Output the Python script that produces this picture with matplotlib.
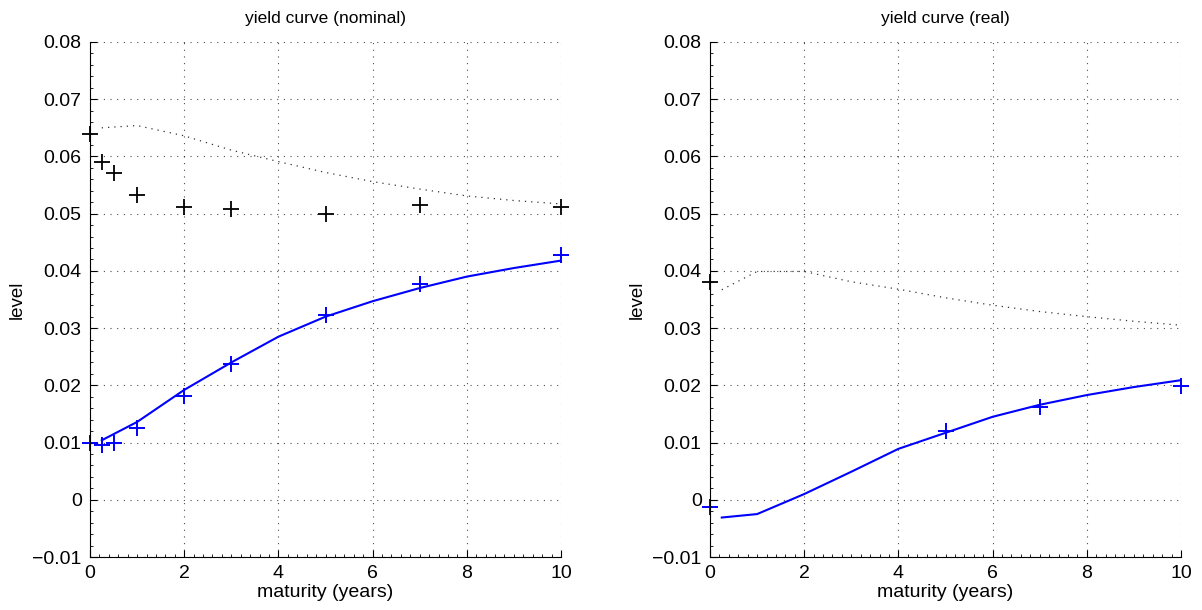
import numpy as np
import matplotlib
matplotlib.use('Agg')
import matplotlib.pyplot as plt
from matplotlib.ticker import MultipleLocator

plt.rcParams['font.family'] = ['Liberation Sans', 'DejaVu Sans']

# maturities of observed yields
mat_nom = [0, 0.25, 0.5, 1, 2, 3, 5, 7, 10]
obs_nom_high = [0.0640, 0.0590, 0.0571, 0.0533, 0.0512, 0.0508, 0.0499, 0.0516, 0.0512]
obs_nom_low = [0.0099, 0.0095, 0.0100, 0.0125, 0.0182, 0.0237, 0.0323, 0.0377, 0.0428]

# model curves
mat_curve = [0.25, 1, 2, 3, 4, 5, 6, 7, 8, 9, 10]
fit_nom_high = [0.0650, 0.0654, 0.0636, 0.0611, 0.0591, 0.0572, 0.0556, 0.0543, 0.0531, 0.0523, 0.0517]
fit_nom_low = [0.0104, 0.0136, 0.0192, 0.0240, 0.0285, 0.0320, 0.0347, 0.0370, 0.0390, 0.0405, 0.0418]

mat_real = [0, 5, 7, 10]
obs_real_high = [0.0381]
mat_real_high = [0]
obs_real_low = [-0.0012, 0.0120, 0.0162, 0.0199]
fit_real_high = [0.0367, 0.0399, 0.0399, 0.0381, 0.0368, 0.0353, 0.0340, 0.0329, 0.0320, 0.0312, 0.0305]
fit_real_low = [-0.0031, -0.0025, 0.0010, 0.0049, 0.0089, 0.0117, 0.0145, 0.0166, 0.0183, 0.0197, 0.0209]

fig = plt.figure(figsize=(12.02, 6.10), dpi=100)
ax1 = fig.add_axes([90/1202, 1-557/610, 471/1202, 515/610])
ax2 = fig.add_axes([710/1202, 1-557/610, 471/1202, 515/610])


def style(ax, title):
    ax.set_xlim(0, 10)
    ax.set_ylim(-0.01, 0.08)
    ax.xaxis.set_major_locator(MultipleLocator(2))
    ax.xaxis.set_minor_locator(MultipleLocator(0.2))
    ax.yaxis.set_major_locator(MultipleLocator(0.01))
    ax.yaxis.set_minor_locator(MultipleLocator(0.002))
    ax.yaxis.set_major_formatter(matplotlib.ticker.FuncFormatter(
        lambda v, p: '0' if abs(v) < 1e-9 else ('\u2212' if v < 0 else '') + f'{abs(v):.2f}'))
    ax.tick_params(which='major', direction='in', length=5, width=0.8, labelsize=14, pad=6)
    ax.tick_params(axis='x', which='major', pad=6)
    ax.tick_params(which='minor', direction='in', length=2, width=0.6)
    ax.spines['top'].set_visible(False)
    ax.spines['right'].set_visible(False)
    ax.grid(True, which='major', linestyle=(0, (1, 5)), color='black', linewidth=0.8, alpha=0.7)
    ax.set_axisbelow(True)
    ax.set_title(title, fontsize=12.5, pad=14)
    ax.set_xlabel('maturity (years)', fontsize=14, labelpad=1)
    ax.set_ylabel('level', fontsize=13.5, labelpad=5)


ax1.plot(mat_curve, fit_nom_high, color='black', linestyle=(0, (1, 4)), linewidth=0.9, alpha=0.8)
ax1.plot(mat_curve, fit_nom_low, color='blue', linewidth=1.5)
ax1.plot(mat_nom, obs_nom_high, '+', color='black', markersize=11, mew=1.3, clip_on=False)
ax1.plot(mat_nom, obs_nom_low, '+', color='blue', markersize=11, mew=1.4, clip_on=False)
style(ax1, 'yield curve (nominal)')

ax2.plot(mat_curve, fit_real_high, color='black', linestyle=(0, (1, 4)), linewidth=0.9, alpha=0.8)
ax2.plot(mat_curve, fit_real_low, color='blue', linewidth=1.5)
ax2.plot(mat_real_high, obs_real_high, '+', color='black', markersize=11, mew=1.3, clip_on=False)
ax2.plot(mat_real, obs_real_low, '+', color='blue', markersize=11, mew=1.4, clip_on=False)
style(ax2, 'yield curve (real)')

fig.savefig('out.png', dpi=100)
